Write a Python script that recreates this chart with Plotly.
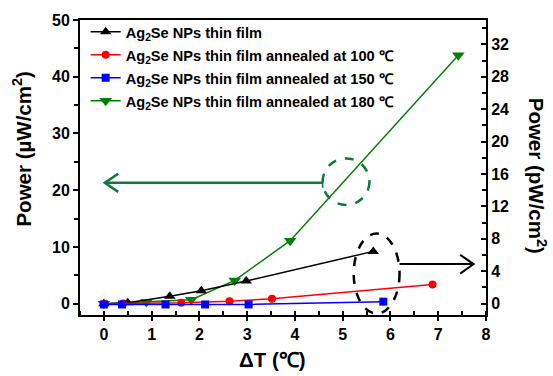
import plotly.graph_objects as go

# Data (ΔT in ℃, power)
black_x = [0, 0.5, 1.38, 2.04, 2.98, 5.64]
black_y = [0, 0.1, 0.9, 1.6, 2.8, 6.45]        # pW/cm2 (right axis)
red_x = [0, 0.4, 1.62, 2.63, 3.52, 6.88]
red_y = [0, 0.02, 0.1, 0.3, 0.6, 2.35]          # pW/cm2 (right axis)
blue_x = [0, 0.38, 1.29, 2.12, 3.03, 5.85]
blue_y = [-0.1, -0.1, -0.1, -0.1, -0.1, 0.25]   # pW/cm2 (right axis)
green_x = [0, 0.89, 1.83, 2.74, 3.9, 7.42]
green_y = [0, 0.3, 0.7, 4.1, 11.1, 43.8]        # µW/cm2 (left axis)

names = [
    "Ag<sub>2</sub>Se NPs thin film",
    "Ag<sub>2</sub>Se NPs thin film annealed at 100 ℃",
    "Ag<sub>2</sub>Se NPs thin film annealed at 150 ℃",
    "Ag<sub>2</sub>Se NPs thin film annealed at 180 ℃",
]

FONT = "Liberation Sans, Arial, sans-serif"
fig = go.Figure()
fig.add_trace(go.Scatter(x=black_x, y=black_y, yaxis="y2", name=names[0], mode="lines+markers",
                         line=dict(color="black", width=1.5), legendgroup="a",
                         marker=dict(symbol="triangle-up", size=10, color="black")))
fig.add_trace(go.Scatter(x=red_x, y=red_y, yaxis="y2", name=names[1], mode="lines+markers",
                         line=dict(color="#ff0000", width=1.5), legendgroup="b",
                         marker=dict(symbol="circle", size=8, color="#ff0000")))
fig.add_trace(go.Scatter(x=blue_x, y=blue_y, yaxis="y2", name=names[2], mode="lines+markers",
                         line=dict(color="#0000ff", width=1.5), legendgroup="c",
                         marker=dict(symbol="square", size=8, color="#0000ff")))
fig.add_trace(go.Scatter(x=green_x, y=green_y, yaxis="y", name=names[3], mode="lines+markers",
                         line=dict(color="#008000", width=1.5), legendgroup="d",
                         marker=dict(symbol="triangle-down", size=11, color="#008000")))

GC = "#0d7a3c"
shapes = [
    dict(type="circle", xref="x", yref="y", x0=4.58, x1=5.56, y0=17.4, y1=25.6,
         line=dict(color=GC, width=2.5, dash="dash")),
    dict(type="line", xref="x", yref="y", x0=4.58, x1=0.02, y0=21.3, y1=21.3,
         line=dict(color=GC, width=2.5)),
    dict(type="line", xref="x", yref="y", x0=4.58, x1=4.58, y0=20.4, y1=22.2,
         line=dict(color=GC, width=1.5)),
    dict(type="path", xref="x", yref="y", path="M 0.3,22.9 L 0.02,21.3 L 0.3,19.7",
         line=dict(color=GC, width=2.5)),
    dict(type="circle", xref="x", yref="y", x0=5.23, x1=6.19, y0=-1.75, y1=12.37,
         line=dict(color="black", width=2.5, dash="dash")),
    dict(type="line", xref="x", yref="y", x0=6.19, x1=7.74, y0=6.97, y1=6.97,
         line=dict(color="black", width=2)),
    dict(type="path", xref="x", yref="y", path="M 7.46,8.6 L 7.74,6.97 L 7.46,5.3",
         line=dict(color="black", width=2)),
]

title_font = dict(family=FONT, size=20.5, color="black", weight="bold")
annotations = [
    dict(text="Power (µW/cm<sup>2</sup>)", xref="paper", yref="paper", x=-0.143, y=0.564,
         xanchor="center", yanchor="middle", textangle=-90, showarrow=False, font=title_font),
    dict(text="Power (pW/cm<sup>2</sup>)", xref="paper", yref="paper", x=1.125, y=0.473,
         xanchor="center", yanchor="middle", textangle=90, showarrow=False, font=title_font),
    dict(text="ΔT (℃)", xref="paper", yref="paper", x=0.473, y=-0.151,
         xanchor="center", yanchor="middle", showarrow=False, font=title_font),
]

tickfont = dict(family=FONT, size=16, color="black", weight="bold")
fig.update_layout(
    width=553, height=376,
    margin=dict(l=80, r=67, t=17, b=61),
    paper_bgcolor="white", plot_bgcolor="white",
    showlegend=True,
    legend=dict(x=0.014, y=1.014, xanchor="left", yanchor="top", bgcolor="rgba(0,0,0,0)",
                font=dict(family=FONT, size=14.6, color="black", weight="bold"),
                tracegroupgap=1, itemwidth=30),
    xaxis=dict(range=[-0.5, 8], dtick=1, tick0=0, showgrid=False, zeroline=False,
               showline=True, linecolor="black", linewidth=2, mirror=True,
               ticks="outside", ticklen=4, tickwidth=1.5, tickcolor="black",
               minor=dict(dtick=0.5, ticks="inside", ticklen=4, tickcolor="black"),
               tickfont=tickfont),
    yaxis=dict(range=[-2, 50], dtick=10, tick0=0, showgrid=False, zeroline=False,
               showline=True, linecolor="black", linewidth=2,
               ticks="outside", ticklen=5, tickwidth=1.5, tickcolor="black",
               minor=dict(dtick=5, ticks="outside", ticklen=4, tickcolor="black"),
               tickfont=tickfont),
    yaxis2=dict(range=[-1.4, 35], dtick=4, tick0=0, overlaying="y", side="right",
                showgrid=False, zeroline=False, showline=True, linecolor="black", linewidth=2,
                ticks="inside", ticklen=5, tickwidth=1.5, tickcolor="black",
                minor=dict(dtick=2, ticks="inside", ticklen=4, tickcolor="black"),
                tickfont=tickfont),
    shapes=shapes, annotations=annotations,
)
fig.write_html("out.html")
